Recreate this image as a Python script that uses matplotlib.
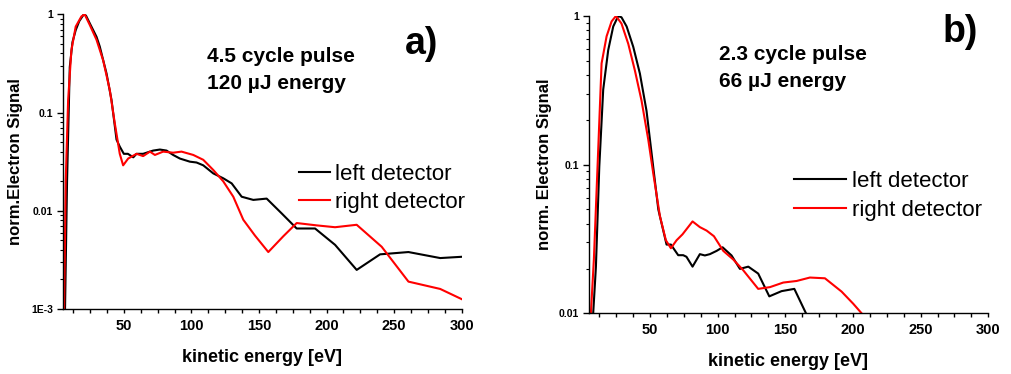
import matplotlib
matplotlib.use("Agg")
import matplotlib.pyplot as plt
from matplotlib.ticker import FixedLocator, FixedFormatter, MultipleLocator, LogLocator, NullFormatter

plt.rcParams['font.family'] = ['Liberation Sans', 'DejaVu Sans']

# ---------------- data: panel a (4.5 cycle pulse) ----------------
a_left_x = [6.0, 6.5, 8.0, 10.0, 12.0, 14.4, 17.0, 20.4, 22.0, 24.8, 29.8, 32.2, 37.2, 40.9,
            44.6, 47.0, 50.0, 53.0, 57.0, 59.4, 64.3, 71.7, 76.7, 81.6, 86.5, 91.5, 98.9,
            103.8, 108.8, 116.2, 123.6, 129.8, 137.2, 145.8, 155.7, 166.8, 177.9, 191.5,
            206.3, 222.3, 239.6, 260.6, 284.1, 300.0]
a_left_y = [0.0005, 0.001, 0.02, 0.29, 0.52, 0.69, 0.85, 1.0, 0.97, 0.81, 0.59, 0.47, 0.25, 0.134,
            0.053, 0.045, 0.038, 0.038, 0.035, 0.038, 0.038, 0.041, 0.042, 0.041, 0.037, 0.034,
            0.0316, 0.031, 0.029, 0.024, 0.0214, 0.019, 0.0139, 0.0129, 0.0133, 0.0094, 0.0066,
            0.0066, 0.0045, 0.0025, 0.0036, 0.0038, 0.0033, 0.0034]

a_right_x = [5.4, 5.8, 7.0, 8.8, 11.2, 14.4, 18.6, 21.0, 24.8, 29.8, 34.7, 39.6, 43.3, 47.0,
             49.5, 53.2, 59.4, 64.3, 69.3, 73.0, 79.1, 86.5, 92.7, 101.4, 108.8, 116.2, 123.6,
             131.0, 138.4, 147.0, 156.9, 168.0, 177.9, 192.7, 206.3, 222.3, 240.8, 260.6,
             284.1, 300.0]
a_right_y = [0.0005, 0.001, 0.02, 0.134, 0.43, 0.75, 0.95, 1.0, 0.78, 0.55, 0.34, 0.17, 0.078,
             0.038, 0.029, 0.034, 0.038, 0.036, 0.040, 0.037, 0.040, 0.039, 0.040, 0.037, 0.033,
             0.026, 0.0199, 0.0139, 0.0081, 0.0056, 0.0038, 0.0055, 0.0075, 0.0071, 0.0068,
             0.0072, 0.0043, 0.0019, 0.0016, 0.00126]

# ---------------- data: panel b (2.3 cycle pulse) ----------------
b_left_x = [7.5, 8.1, 10.1, 12.6, 15.5, 19.2, 22.9, 26.6, 29.0, 32.8, 37.7, 42.6, 47.5, 51.2,
            56.2, 62.3, 65.5, 70.9, 74.6, 77.0, 81.5, 86.9, 90.6, 94.3, 99.3, 103.7, 110.3,
            116.5, 122.7, 130.0, 138.2, 147.3, 156.7, 165.3, 167.0]
b_left_y = [0.005, 0.01, 0.0205, 0.097, 0.32, 0.59, 0.85, 1.0, 0.98, 0.85, 0.62, 0.41, 0.23,
            0.12, 0.05, 0.029, 0.029, 0.0246, 0.0246, 0.024, 0.0206, 0.025, 0.0245, 0.025,
            0.0263, 0.0278, 0.0245, 0.0199, 0.0206, 0.0185, 0.0130, 0.0141, 0.0146, 0.010, 0.009]

b_right_x = [6.0, 6.4, 8.6, 11.8, 14.3, 18.0, 21.7, 24.9, 29.0, 34.0, 38.9, 43.8, 48.8, 52.5,
             57.4, 61.8, 65.5, 69.7, 74.1, 81.5, 86.9, 91.9, 97.3, 104.2, 111.6, 118.9, 130.0,
             138.7, 148.5, 158.4, 168.2, 179.3, 191.6, 200.2, 206.4, 208.0]
b_right_y = [0.005, 0.01, 0.023, 0.126, 0.48, 0.73, 0.92, 1.0, 0.89, 0.65, 0.43, 0.27, 0.147,
             0.087, 0.045, 0.031, 0.0274, 0.031, 0.034, 0.0415, 0.038, 0.036, 0.033, 0.0263,
             0.023, 0.0195, 0.0146, 0.0150, 0.0161, 0.0165, 0.0174, 0.0172, 0.014, 0.0116,
             0.010, 0.0095]

x_ticks = [50, 100, 150, 200, 250, 300]
x_ticklabels = ['50', '100', '150', '200', '250', '300']
a_yticks = [0.001, 0.01, 0.1, 1]
a_yticklabels = ['1E-3', '0.01', '0.1', '1']
b_yticks = [0.01, 0.1, 1]
b_yticklabels = ['0.01', '0.1', '1']
series_labels = ['left detector', 'right detector']
series_colors = ['black', '#ff0000']

W, H = 1011, 374
fig = plt.figure(figsize=(W / 100, H / 100), dpi=100)


def px_rect(l, t, r, b):
    return [l / W, 1 - b / H, (r - l) / W, (b - t) / H]


def style_axes(ax, yticks, ylabels, ylim):
    ax.set_yscale('log')
    ax.set_xlim(5, 300)
    ax.set_ylim(*ylim)
    for s in ['top', 'right']:
        ax.spines[s].set_visible(False)
    for s in ['left', 'bottom']:
        ax.spines[s].set_linewidth(1.0)
    ax.xaxis.set_major_locator(FixedLocator(x_ticks))
    ax.xaxis.set_major_formatter(FixedFormatter(x_ticklabels))
    ax.xaxis.set_minor_locator(MultipleLocator(12.5))
    ax.yaxis.set_major_locator(FixedLocator(yticks))
    ax.yaxis.set_major_formatter(FixedFormatter(ylabels))
    ax.yaxis.set_minor_locator(LogLocator(base=10, subs=range(2, 10)))
    ax.yaxis.set_minor_formatter(NullFormatter())
    ax.tick_params(axis='x', which='major', direction='out', length=3.2, width=1, pad=4,
                   labelsize=10.5)
    ax.tick_params(axis='x', which='minor', direction='out', length=3.2, width=1)
    ax.tick_params(axis='y', which='major', direction='out', length=4.5, width=1, pad=2.5,
                   labelsize=7.5)
    ax.tick_params(axis='y', which='minor', direction='out', length=2.3, width=0.8)
    for lab in ax.get_xticklabels() + ax.get_yticklabels():
        lab.set_fontweight('bold')


# ---------------- panel a ----------------
axa = fig.add_axes(px_rect(63, 14.3, 461.7, 309))
axa.plot(a_left_x, a_left_y, color=series_colors[0], lw=1.5, label=series_labels[0])
axa.plot(a_right_x, a_right_y, color=series_colors[1], lw=1.5, label=series_labels[1])
style_axes(axa, a_yticks, a_yticklabels, (1e-3, 1))
axa.set_xlabel('kinetic energy [eV]', fontsize=13, fontweight='bold')
axa.set_ylabel('norm.Electron Signal', fontsize=12, fontweight='bold')
axa.xaxis.set_label_coords((262 - 63) / 398.7, (309 - 357) / 294.7)
axa.xaxis.label.set_va('center')
axa.yaxis.set_label_coords((16 - 63) / 398.7, 0.5)
axa.yaxis.label.set_va('center')

# ---------------- panel b ----------------
axb = fig.add_axes(px_rect(589, 16, 988.3, 313.3))
axb.plot(b_left_x, b_left_y, color=series_colors[0], lw=1.5, label=series_labels[0])
axb.plot(b_right_x, b_right_y, color=series_colors[1], lw=1.5, label=series_labels[1])
style_axes(axb, b_yticks, b_yticklabels, (0.01, 1))
axb.set_xlabel('kinetic energy [eV]', fontsize=13, fontweight='bold')
axb.set_ylabel('norm. Electron Signal', fontsize=12, fontweight='bold')
axb.xaxis.set_label_coords((788 - 589) / 399.3, (313.3 - 361) / 297.3)
axb.xaxis.label.set_va('center')
axb.yaxis.set_label_coords((544 - 589) / 399.3, 0.5)
axb.yaxis.label.set_va('center')

# ---------------- legends ----------------
fig.legend(*axa.get_legend_handles_labels(), loc='center left',
           bbox_to_anchor=(299 / W, 1 - 188.5 / H), frameon=False, fontsize=16,
           handlelength=1.4, handletextpad=0.22, labelspacing=0.33,
           borderpad=0, borderaxespad=0)
fig.legend(*axb.get_legend_handles_labels(), loc='center left',
           bbox_to_anchor=(794 / W, 1 - 196 / H), frameon=False, fontsize=16,
           handlelength=2.35, handletextpad=0.28, labelspacing=0.35,
           borderpad=0, borderaxespad=0)

# ---------------- annotations ----------------
fig.text(421.7 / W, 1 - 44 / H, 'a)', fontsize=27, fontweight='bold', ha='center', va='center')
fig.text(206.7 / W, 1 - 56.7 / H, '4.5 cycle pulse', fontsize=15, fontweight='bold', va='center')
fig.text(206.7 / W, 1 - 83.3 / H, '120 µJ energy', fontsize=15, fontweight='bold', va='center')

fig.text(960 / W, 1 - 32 / H, 'b)', fontsize=27, fontweight='bold', ha='center', va='center')
fig.text(719.3 / W, 1 - 55 / H, '2.3 cycle pulse', fontsize=15, fontweight='bold', va='center')
fig.text(719.3 / W, 1 - 81.7 / H, '66 µJ energy', fontsize=15, fontweight='bold', va='center')

fig.savefig('out.png', dpi=100)
